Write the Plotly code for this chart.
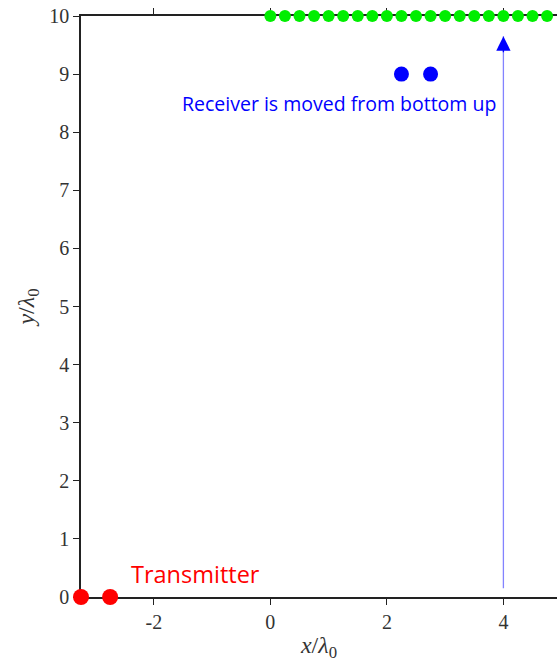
import plotly.graph_objects as go

# Antenna positions (in units of the free-space wavelength)
transmitter_x = [-3.25, -2.75]
transmitter_y = [0, 0]
receiver_x = [2.25, 2.75]
receiver_y = [9, 9]
array_x = [0, 0.25, 0.5, 0.75, 1, 1.25, 1.5, 1.75, 2, 2.25, 2.5, 2.75,
           3, 3.25, 3.5, 3.75, 4, 4.25, 4.5, 4.75, 5]
array_y = [10] * len(array_x)

# Receiver sweep path
sweep_x = [4, 4]
sweep_y = [0.15, 9.65]

x_ticks = [-2, 0, 2, 4]
y_ticks = [0, 1, 2, 3, 4, 5, 6, 7, 8, 9, 10]

serif = "Liberation Serif"
sans = "Open Sans"

fig = go.Figure()

fig.add_trace(go.Scatter(
    x=sweep_x, y=sweep_y, mode="lines",
    line=dict(color="rgba(90,90,255,0.75)", width=1.3),
    hoverinfo="skip", showlegend=False))

fig.add_trace(go.Scatter(
    x=array_x, y=array_y, mode="markers",
    marker=dict(color="#00ee00", size=12, line=dict(width=0)),
    cliponaxis=False, showlegend=False))

fig.add_trace(go.Scatter(
    x=receiver_x, y=receiver_y, mode="markers",
    marker=dict(color="#0000ff", size=15, line=dict(width=0)),
    cliponaxis=False, showlegend=False))

fig.add_trace(go.Scatter(
    x=transmitter_x, y=transmitter_y, mode="markers",
    marker=dict(color="#ff0000", size=16, line=dict(width=0)),
    cliponaxis=False, showlegend=False))

# Arrowhead at the top of the sweep path
fig.add_annotation(
    x=sweep_x[1], y=sweep_y[1], ax=sweep_x[0], ay=sweep_y[1] - 0.3,
    xref="x", yref="y", axref="x", ayref="y",
    text="", showarrow=True, arrowhead=2, arrowsize=2.2, arrowwidth=1.3,
    arrowcolor="#0000ff", standoff=0)

fig.add_annotation(
    x=1.18, y=8.5, xref="x", yref="y", text="Receiver is moved from bottom up",
    showarrow=False, font=dict(family=sans, size=19.5, color="#0000ff"))

fig.add_annotation(
    x=-1.28, y=0.4, xref="x", yref="y", text="Transmitter",
    showarrow=False, font=dict(family=sans, size=23.5, color="#ff0000"))

axis_common = dict(
    showgrid=False, zeroline=False, showline=True, linecolor="#222222",
    linewidth=1.6, ticks="outside", ticklen=6, tickwidth=1.3,
    tickcolor="#222222", layer="below traces",
    tickfont=dict(family=serif, size=20, color="#333333"))

fig.update_xaxes(
    range=[-3.25, 4.92], tickvals=x_ticks, ticktext=[str(v) for v in x_ticks],
    mirror="ticks",
    title=dict(text="<i>x</i>/<i>λ</i><sub>0</sub>",
               font=dict(family=serif, size=24, color="#333333"), standoff=4),
    **axis_common)

fig.update_yaxes(
    range=[0, 10], tickvals=y_ticks, ticktext=[str(v) for v in y_ticks],
    title=dict(text="<i>y</i>/<i>λ</i><sub>0</sub>",
               font=dict(family=serif, size=24, color="#333333"), standoff=8),
    **axis_common)

fig.update_layout(
    width=557, height=668,
    margin=dict(l=81, r=0, t=16, b=71),
    plot_bgcolor="white", paper_bgcolor="white",
    showlegend=False)

fig.write_html("out.html")
